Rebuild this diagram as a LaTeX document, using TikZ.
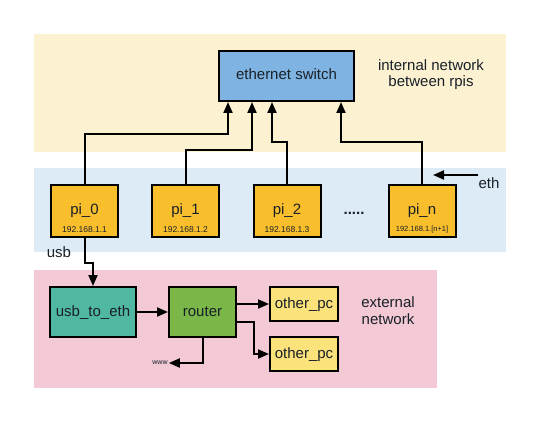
\documentclass[tikz,border=0pt]{standalone}
\usepackage{fontspec}
\setmainfont{Liberation Sans}
\usetikzlibrary{arrows.meta}
\definecolor{bandY}{RGB}{252,242,210}
\definecolor{bandB}{RGB}{221,235,247}
\definecolor{bandP}{RGB}{242,201,212}
\definecolor{swfill}{RGB}{127,180,226}
\definecolor{pifill}{RGB}{248,190,44}
\definecolor{uefill}{RGB}{80,184,160}
\definecolor{rtfill}{RGB}{122,182,72}
\definecolor{pcfill}{RGB}{251,226,122}
\definecolor{txt}{RGB}{25,32,40}
\tikzset{
  box/.style={draw=black, line width=2pt, inner sep=0pt, text=txt,
    font=\fontsize{15}{17}\selectfont, text height=11pt, text depth=3pt},
  pibox/.style={box, fill=pifill, minimum width=67pt, minimum height=52pt},
  pitxt/.style={anchor=base, inner sep=0pt, text=txt, font=\fontsize{15}{17}\selectfont},
  iptxt/.style={anchor=base, inner sep=0pt, text=txt, font=\fontsize{8.5}{10}\selectfont},
  lbl/.style={inner sep=0pt, text=txt, font=\fontsize{15}{17}\selectfont},
  arr/.style={line width=2pt, -{Triangle[length=11pt,width=9pt]}},
}
\begin{document}
\begin{tikzpicture}[x=1pt,y=-1pt]
\useasboundingbox (0,0) rectangle (540,422);
\fill[white] (0,0) rectangle (540,422);
% bands
\fill[bandY] (34,34) rectangle (506,152);
\fill[bandB] (34,168) rectangle (506,252);
\fill[bandP] (34,270) rectangle (437,388);
% switch
\node[box, fill=swfill, minimum width=135pt, minimum height=50pt] (sw) at (286.5,76) {ethernet switch};
\node[lbl, anchor=base, align=center] (intl1) at (431,71) {internal network};
\node[lbl, anchor=base] (intl2) at (431,87) {between rpis};
% pis
\node[pibox] (p0) at (84.5,211) {};
\node[pitxt] (p0t) at (84.5,214) {pi\_0};
\node[iptxt] (p0i) at (84.5,232) {192.168.1.1};
\node[pibox] (p1) at (185.5,211) {};
\node[pitxt] (p1t) at (185.5,214) {pi\_1};
\node[iptxt] (p1i) at (185.5,232) {192.168.1.2};
\node[pibox] (p2) at (287,211) {};
\node[pitxt] (p2t) at (287,214) {pi\_2};
\node[iptxt] (p2i) at (287,232) {192.168.1.3};
\node[pibox] (pn) at (422,211) {};
\node[pitxt] (pnt) at (422,214) {pi\_n};
\node[iptxt, font=\fontsize{7.5}{9}\selectfont] (pni) at (422,231.5) {192.168.1.[n+1]};
\node[pitxt, font=\bfseries\fontsize{15}{17}\selectfont] (dots) at (354,214) {.....};
% eth
\coordinate (ethA) at (478,175);
\coordinate (ethB) at (433,175);
\draw[arr] (ethA) -- (ethB);
\node[lbl, anchor=base] (eth) at (489,188) {eth};
% usb label
\node[lbl, anchor=base] (usb) at (59,257) {usb};
% pi to switch
\draw[arr] (p0.north) -- ++(0,-50) -| ([xshift=-58.5pt]sw.south);
\draw[arr] (p1.north) -- ++(0,-34) -| ([xshift=-34.5pt]sw.south);
\draw[arr] (p2.north) -- ++(0,-42) -| ([xshift=-14.5pt]sw.south);
\draw[arr] (pn.north) -- ++(0,-42) -| ([xshift=54.5pt]sw.south);
% external
\node[box, fill=uefill, minimum width=86pt, minimum height=50pt] (ue) at (93,312) {usb\_to\_eth};
\node[box, fill=rtfill, minimum width=67pt, minimum height=50pt] (rt) at (202.5,312) {router};
\node[box, fill=pcfill, minimum width=68pt, minimum height=34pt] (pc1) at (304,304) {other\_pc};
\node[box, fill=pcfill, minimum width=68pt, minimum height=34pt] (pc2) at (304,354) {other\_pc};
\node[lbl, anchor=base] (ext1) at (388,307) {external};
\node[lbl, anchor=base] (ext2) at (388,324) {network};
\node[inner sep=1pt, text=txt, font=\fontsize{7}{8}\selectfont] (www) at (160,363) {www};
\draw[arr] (p0.south) -- ++(0,25) -| (ue.north);
\draw[arr] (ue) -- (rt);
\draw[arr] (rt.east |- pc1.west) -- (pc1.west);
\draw[arr] ([yshift=-10pt]rt.east) -- ++(17,0) |- (pc2.west);
\draw[arr] (rt.south) |- (www.east);
\end{tikzpicture}
\end{document}
